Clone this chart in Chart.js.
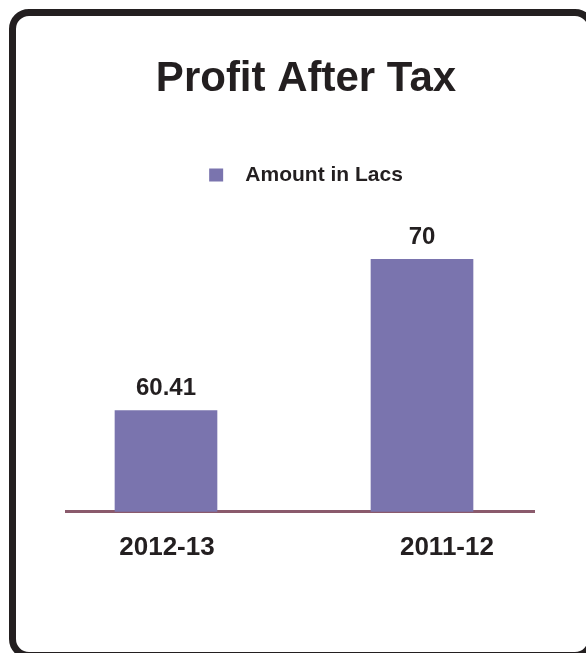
<!DOCTYPE html>
<html>
<head>
<meta charset="utf-8">
<script src="https://cdn.jsdelivr.net/npm/chart.js@4.4.1/dist/chart.umd.min.js"></script>
<style>
html,body{margin:0;padding:0;background:#fff;width:586px;height:653px;overflow:hidden}
#frame{position:absolute;left:9px;top:9px;width:572px;height:636px;border:7px solid #231f20;border-radius:20px}
#wrap{position:absolute;left:0;top:0;width:586px;height:653px}
</style>
</head>
<body>
<div id="frame"></div>
<div id="wrap"><canvas id="chart"></canvas></div>
<script>
'use strict';
// data
const categories = ['2012-13', '2011-12'];
const amounts = [60.41, 70];
const seriesName = 'Amount in Lacs';
const chartTitle = 'Profit After Tax';

const INK = '#231f20', BAR = '#7a74ae', AXIS = '#8a5a6c';
const FONT = "'Liberation Sans', Arial, sans-serif";

const valueLabels = {
  id: 'valueLabels',
  afterDatasetsDraw(chart){
    const ctx = chart.ctx, meta = chart.getDatasetMeta(0);
    ctx.save();
    ctx.font = 'bold 24px ' + FONT;
    ctx.fillStyle = INK; ctx.textAlign = 'center'; ctx.textBaseline = 'middle';
    meta.data.forEach((bar, i) => ctx.fillText(String(amounts[i]), bar.x, bar.y - 22));
    ctx.restore();
  }
};

new Chart(document.getElementById('chart'), {
  type: 'bar',
  data: {
    datasets: [{
      label: seriesName,
      data: amounts.map((v, i) => ({x: i, y: v})),
      backgroundColor: BAR, borderWidth: 0, barThickness: 102,
      xAxisID: 'x', yAxisID: 'y'
    }]
  },
  options: {
    responsive: true, maintainAspectRatio: false, animation: false,
    layout: {padding: {top: 10, left: 66, right: 40, bottom: 70}},
    plugins: {
      tooltip: {enabled: false},
      title: {display: true, text: chartTitle, color: INK, font: {family: FONT, size: 42, weight: 'bold'}, padding: {top: 44, bottom: 50}},
      legend: {
        labels: {
          color: INK, font: {family: FONT, size: 21, weight: 'bold'}, boxWidth: 14, boxHeight: 13, padding: 10,
          generateLabels: ch => Chart.defaults.plugins.legend.labels.generateLabels(ch).map(l => ({...l, text: '  ' + l.text}))
        }
      }
    },
    scales: {
      x: {
        type: 'linear', position: 'bottom', min: -0.3906, max: 1.4375, offset: false, weight: 0,
        ticks: {display: false}, grid: {display: false, drawTicks: false},
        border: {color: AXIS, width: 3}
      },
      xl: {
        type: 'linear', axis: 'x', position: 'bottom', min: -0.3607, max: 1.311, offset: false, weight: 1,
        afterBuildTicks: s => { s.ticks = categories.map((c, i) => ({value: i})); },
        ticks: {padding: 20, color: INK, font: {family: FONT, size: 26, weight: 'bold'}, autoSkip: false, maxRotation: 0, callback: v => categories[v]},
        grid: {display: false, drawTicks: false}, border: {display: false}
      },
      y: {
        type: 'linear', position: 'right', min: 54, max: 74.05,
        ticks: {display: false}, grid: {display: false, drawTicks: false}, border: {display: false},
        afterFit: s => { s.width = 12; }
      }
    }
  },
  plugins: [valueLabels]
});
</script>
</body>
</html>
